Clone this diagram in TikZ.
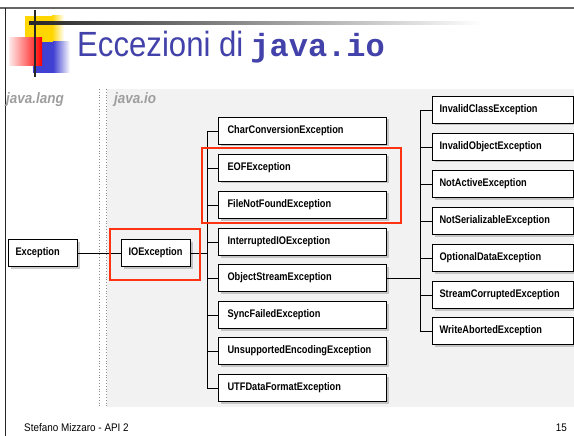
\documentclass[tikz,border=0pt]{standalone}
\usepackage{fontspec}
\setmainfont{Liberation Sans}
\setmonofont{Liberation Mono}
\usetikzlibrary{shadows}
\definecolor{titleblue}{RGB}{66,66,170}
\definecolor{panelgray}{RGB}{242,242,242}
\definecolor{markred}{RGB}{255,51,17}
\definecolor{logoyellow}{RGB}{255,214,0}
\definecolor{logoblue}{RGB}{64,64,210}
\newcommand{\clsname}[1]{\scalebox{0.84}[1]{\bfseries #1}}
\tikzset{
  cls/.style={draw, line width=1.1pt, fill=white, anchor=west, minimum height=27pt,
    inner xsep=7pt, inner ysep=0pt, align=left, font=\fontsize{11}{12}\selectfont,
    drop shadow={shadow xshift=2pt, shadow yshift=-2pt, opacity=0.4}},
  basecls/.style={cls, text width=55pt},
  midcls/.style={cls, inner xsep=9pt, text width=150pt},
  rgtcls/.style={cls, text width=127pt},
  wire/.style={line width=0.9pt},
  markbox/.style={draw=markred, line width=1.6pt},
  pkglabel/.style={font=\fontsize{15}{16}\selectfont\bfseries\itshape, text=black!38,
    anchor=base west, inner sep=0pt},
}
\begin{document}
\begin{tikzpicture}[x=1pt, y=-1pt]
\useasboundingbox (0,0) rectangle (574,436);
% slide frame
\draw[black!60, line width=1.5pt] (0,8) -- (574,8);
\draw[black!85, line width=1pt] (5,8) -- (5,436);
% logo
\fill[logoyellow] (25,16) rectangle (52,42);
\shade[left color=logoyellow, right color=white] (52,16) rectangle (64,42);
\fill[logoblue] (33,42) rectangle (53,73);
\shade[left color=logoblue, right color=white] (53,42) rectangle (70,73);
\shade[left color=red!8, right color=red] (9,38) rectangle (42,66);
\draw[black!85, line width=1.7pt] (35,10) -- (35,77);
\shade[left color=black!85, middle color=black!45, right color=white] (29,21.8) rectangle (483,24.2);
% title
\node[anchor=base west, inner sep=0pt, text=titleblue] (title) at (77,57)
  {{\fontsize{35}{40}\selectfont\scalebox{0.89}[1]{Eccezioni di}}\hspace{7pt}{\fontsize{32}{36}\selectfont\ttfamily\bfseries java.io}};
% package panels
\fill[panelgray] (107,89) rectangle (574,407);
\draw[black!45, dotted, line width=0.8pt] (99,89) -- (99,407);
\draw[black!45, dotted, line width=0.8pt] (106,89) -- (106,407);
\node[pkglabel] (lang) at (6,103) {\scalebox{0.9}[1]{java.lang}};
\node[pkglabel] (iopkg) at (114,103) {\scalebox{0.9}[1]{java.io}};
% classes
\node[basecls] (exc) at (8,253) {\clsname{Exception}};
\node[basecls] (io) at (121,253) {\clsname{IOException}};
\node[midcls] (ccx) at (218,131) {\clsname{CharConversionException}};
\node[midcls] (eof) at (218,168) {\clsname{EOFException}};
\node[midcls] (fnf) at (218,205) {\clsname{FileNotFoundException}};
\node[midcls] (iio) at (218,242) {\clsname{InterruptedIOException}};
\node[midcls] (ose) at (218,278) {\clsname{ObjectStreamException}};
\node[midcls] (sfe) at (218,315) {\clsname{SyncFailedException}};
\node[midcls] (uee) at (218,351) {\clsname{UnsupportedEncodingException}};
\node[midcls] (utf) at (218,388) {\clsname{UTFDataFormatException}};
\node[rgtcls] (ice) at (432,110) {\clsname{InvalidClassException}};
\node[rgtcls] (ioe) at (432,147) {\clsname{InvalidObjectException}};
\node[rgtcls] (nae) at (432,184) {\clsname{NotActiveException}};
\node[rgtcls] (nse) at (432,221) {\clsname{NotSerializableException}};
\node[rgtcls] (ode) at (432,258) {\clsname{OptionalDataException}};
\node[rgtcls] (sce) at (432,295) {\clsname{StreamCorruptedException}};
\node[rgtcls] (wae) at (432,331) {\clsname{WriteAbortedException}};
% hierarchy
\draw[wire] (exc) -- (io);
\coordinate (iofork) at (207,253);
\draw[wire] (io) -- (iofork);
\foreach \n in {ccx,eof,fnf,iio,ose,sfe,uee,utf}
  \draw[wire] (iofork) |- (\n.west);
\coordinate (osfork) at (420,278);
\draw[wire] (ose) -- (osfork);
\foreach \n in {ice,ioe,nae,nse,ode,sce,wae}
  \draw[wire] (osfork) |- (\n.west);
% highlights
\draw[markbox] (110,229) rectangle (200,280);
\draw[markbox] (202,148) rectangle (401,223);
% footer
\node[anchor=base west, inner sep=0pt, font=\fontsize{11}{12}\selectfont] (author) at (24,431)
  {\scalebox{0.9}[1]{Stefano Mizzaro - API 2}};
\node[anchor=base east, inner sep=0pt, font=\fontsize{11}{12}\selectfont] (page) at (567,431)
  {\scalebox{0.9}[1]{15}};
\end{tikzpicture}
\end{document}
